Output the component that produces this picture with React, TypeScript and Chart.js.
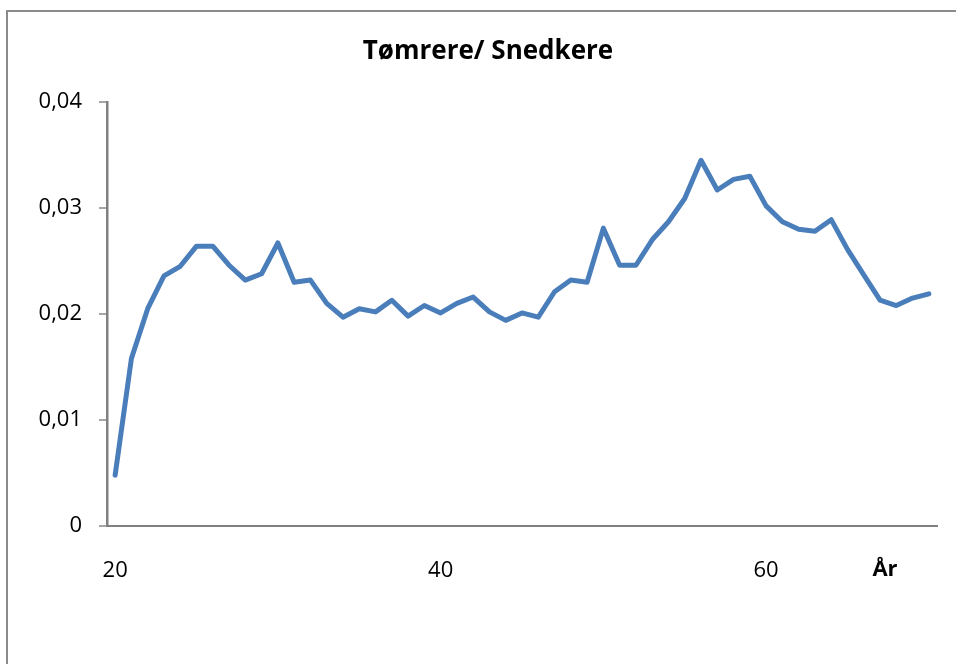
import { useEffect, useRef } from "react";
import { Chart, registerables } from "chart.js";

Chart.register(...registerables);

const chartTitle = "Tømrere/ Snedkere";
const xAxisTitle = "År";

const ages = [
  "20", "21", "22", "23", "24", "25", "26", "27", "28", "29",
  "30", "31", "32", "33", "34", "35", "36", "37", "38", "39",
  "40", "41", "42", "43", "44", "45", "46", "47", "48", "49",
  "50", "51", "52", "53", "54", "55", "56", "57", "58", "59",
  "60", "61", "62", "63", "64", "65", "66", "67", "68", "69",
  "70",
];

const shares = [
  0.0048, 0.0158, 0.0205, 0.0236, 0.0245, 0.0264, 0.0264, 0.0246, 0.0232, 0.0238,
  0.0267, 0.0230, 0.0232, 0.0210, 0.0197, 0.0205, 0.0202, 0.0213, 0.0198, 0.0208,
  0.0201, 0.0210, 0.0216, 0.0202, 0.0194, 0.0201, 0.0197, 0.0221, 0.0232, 0.0230,
  0.0281, 0.0246, 0.0246, 0.0270, 0.0287, 0.0309, 0.0345, 0.0317, 0.0327, 0.0330,
  0.0302, 0.0287, 0.0280, 0.0278, 0.0289, 0.0261, 0.0237, 0.0213, 0.0208, 0.0215,
  0.0219,
];

const xTickLabels = ["20", "40", "60"];
const yMin = 0;
const yMax = 0.04;
const yStep = 0.01;

const FONT = "'Open Sans', Lato, sans-serif";

export default function App() {
  const canvasRef = useRef<HTMLCanvasElement | null>(null);

  useEffect(() => {
    const canvas = canvasRef.current;
    if (!canvas) return;

    const framePlugin = {
      id: "frame",
      beforeDraw(chart: any) {
        const ctx = chart.ctx;
        ctx.save();
        ctx.strokeStyle = "#8a8a8a";
        ctx.lineWidth = 2;
        ctx.strokeRect(7, 11, chart.width + 20, chart.height + 20);
        ctx.restore();
      },
    };

    const axisTitlePlugin = {
      id: "axisTitle",
      afterDraw(chart: any) {
        const ctx = chart.ctx;
        const area = chart.chartArea;
        ctx.save();
        ctx.font = `bold 22px ${FONT}`;
        ctx.fillStyle = "#000";
        ctx.textAlign = "center";
        ctx.textBaseline = "middle";
        ctx.fillText(xAxisTitle, area.right - 52, area.bottom + 44);
        ctx.restore();
      },
    };

    const chart = new Chart(canvas, {
      type: "line",
      data: {
        labels: ages,
        datasets: [
          {
            data: shares,
            borderColor: "#4a7ebb",
            backgroundColor: "#4a7ebb",
            borderWidth: 5,
            pointRadius: 0,
            pointHoverRadius: 0,
            tension: 0,
            borderJoinStyle: "round",
            borderCapStyle: "round",
            fill: false,
          },
        ],
      },
      options: {
        animation: false,
        responsive: false,
        maintainAspectRatio: false,
        events: [],
        layout: { padding: { left: 39, right: 19, top: 0, bottom: 0 } },
        plugins: {
          legend: { display: false },
          tooltip: { enabled: false },
          title: {
            display: true,
            text: chartTitle,
            color: "#000",
            font: { family: FONT, size: 26, weight: "bold" },
            padding: { top: 35.5, bottom: 35.3 },
          },
        },
        scales: {
          x: {
            type: "category",
            offset: true,
            grid: { display: false, offset: true },
            border: { display: true, color: "#808080", width: 2 },
            ticks: {
              autoSkip: false,
              maxRotation: 0,
              minRotation: 0,
              padding: 24,
              color: "#000",
              font: { family: FONT, size: 22 },
              callback: (_v: any, idx: number) =>
                xTickLabels.includes(ages[idx]) ? ages[idx] : "",
            },
            afterFit: (scale: any) => {
              scale.height = 138;
            },
          },
          y: {
            min: yMin,
            max: yMax,
            grid: {
              display: true,
              drawOnChartArea: false,
              drawTicks: true,
              tickLength: 8,
              color: "#a6a6a6",
              lineWidth: 2,
            },
            border: { display: true, color: "#808080", width: 2.5 },
            ticks: {
              stepSize: yStep,
              padding: 17,
              color: "#000",
              font: { family: FONT, size: 22 },
              callback: (v: any) => {
                const n = Math.round(Number(v) * 100) / 100;
                return n === 0 ? "0" : n.toFixed(2).replace(".", ",");
              },
            },
            afterFit: (scale: any) => {
              scale.width = 68;
            },
          },
        },
      },
      plugins: [framePlugin, axisTitlePlugin],
    });

    return () => {
      chart.destroy();
    };
  }, []);

  return (
    <div style={{ position: "fixed", left: 0, top: 0, width: 956, height: 664, background: "#fff" }}>
      <canvas ref={canvasRef} width={956} height={664} style={{ display: "block" }} />
    </div>
  );
}
